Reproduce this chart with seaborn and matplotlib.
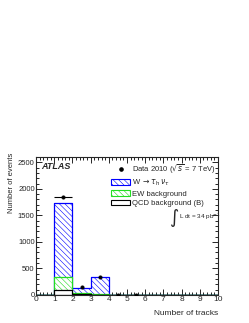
import matplotlib
matplotlib.use('Agg')
import matplotlib.pyplot as plt
import numpy as np
import pandas as pd
import seaborn as sns
from matplotlib.ticker import MultipleLocator
from matplotlib.patches import Patch
from matplotlib.lines import Line2D

# track-multiplicity bins
edges = [0, 1, 2, 3, 4, 5, 6, 7, 8, 9, 10]
centers = [0.5, 1.5, 2.5, 3.5, 4.5, 5.5, 6.5, 7.5, 8.5, 9.5]
qcd = [0, 100, 12, 5, 1, 0.5, 0, 0, 0, 0]
ew = [0, 230, 18, 12, 2, 1, 0, 0, 0, 0]
wtau = [0, 1400, 108, 325, 2, 1, 0, 0, 0, 0]
data_y = [0, 1840, 140, 340, 5, 3]
data_x = [0.5, 1.5, 2.5, 3.5, 4.5, 5.5]

sns.set_style('ticks')
plt.rcParams['font.family'] = ['Liberation Sans', 'DejaVu Sans']
plt.rcParams['hatch.linewidth'] = 0.4

df = pd.DataFrame({'x': centers, 'qcd': qcd, 'ew': ew, 'w': wtau})
df['lvl_ew'] = df['qcd'] + df['ew']
df['lvl_w'] = df['lvl_ew'] + df['w']

fig = plt.figure(figsize=(2.49, 3.23), dpi=100)
ax = fig.add_axes([0.145, 0.087, 0.73, 0.427])

hatch = '\\\\\\\\\\\\'
layers = [('lvl_w', 'blue', hatch), ('lvl_ew', '#22dd22', hatch), ('qcd', 'black', None)]
for col, colr, h in layers:
    sns.histplot(data=df, x='x', weights=col, bins=edges, element='step', fill=True,
                 color='white', edgecolor=colr, linewidth=0.9, alpha=1, ax=ax)
    coll = ax.collections[-1]
    coll.set_facecolor('white')
    coll.set_edgecolor(colr)
    if h:
        coll.set_hatch(h)

dd = pd.DataFrame({'x': data_x, 'y': data_y})
ax.errorbar(dd['x'][1:2], dd['y'][1:2], xerr=0.5, fmt='none', ecolor='black', lw=0.8)
sns.scatterplot(data=dd[1:], x='x', y='y', color='black', s=7, edgecolor='black', ax=ax, zorder=5)

ax.set_xlim(0, 10)
ax.set_ylim(0, 2600)
ax.xaxis.set_major_locator(MultipleLocator(1))
ax.xaxis.set_minor_locator(MultipleLocator(0.2))
ax.yaxis.set_major_locator(MultipleLocator(500))
ax.yaxis.set_minor_locator(MultipleLocator(100))
ax.tick_params(which='both', direction='in', top=True, right=True, pad=1, width=0.7)
ax.tick_params(axis='x', labelsize=6)
ax.tick_params(axis='y', labelsize=5.5)
ax.tick_params(which='major', length=4)
ax.tick_params(which='minor', length=2)
for s in ax.spines.values():
    s.set_linewidth(0.8)

ax.set_xlabel('Number of tracks', fontsize=6, loc='right', labelpad=5)
ax.set_ylabel('Number of events', fontsize=5.5)
ax.yaxis.set_label_coords(-0.155, 1.03, transform=ax.transAxes)
ax.yaxis.label.set_va('top')
ax.yaxis.label.set_ha('right')

ax.text(0.03, 0.93, 'ATLAS', transform=ax.transAxes, fontsize=6.5,
        fontweight='bold', fontstyle='italic', va='center')
ax.text(7.6, 1450, r'$\int$', fontsize=9, ha='center', va='center')
ax.text(7.85, 1470, r'L dt = 34 pb$^{-1}$', fontsize=4.6, va='center')

handles = [
    Line2D([], [], marker='o', color='black', ls='none', markersize=2.3),
    Patch(facecolor='white', edgecolor='blue', hatch=hatch, lw=0.8),
    Patch(facecolor='white', edgecolor='#22dd22', hatch=hatch, lw=0.8),
    Patch(facecolor='white', edgecolor='black', lw=0.8),
]
labels = [r'Data 2010 ($\sqrt{s}$ = 7 TeV)', r'W $\rightarrow \tau_{\rm h}\,\nu_\tau$',
          'EW background', 'QCD background (B)']
ax.legend(handles, labels, loc='upper right', bbox_to_anchor=(1.02, 1.0), frameon=False,
          fontsize=5.5, handlelength=2.4, handleheight=0.8, handletextpad=0.35,
          labelspacing=0.25, borderaxespad=0.3)

fig.savefig('out.png', dpi=100)
